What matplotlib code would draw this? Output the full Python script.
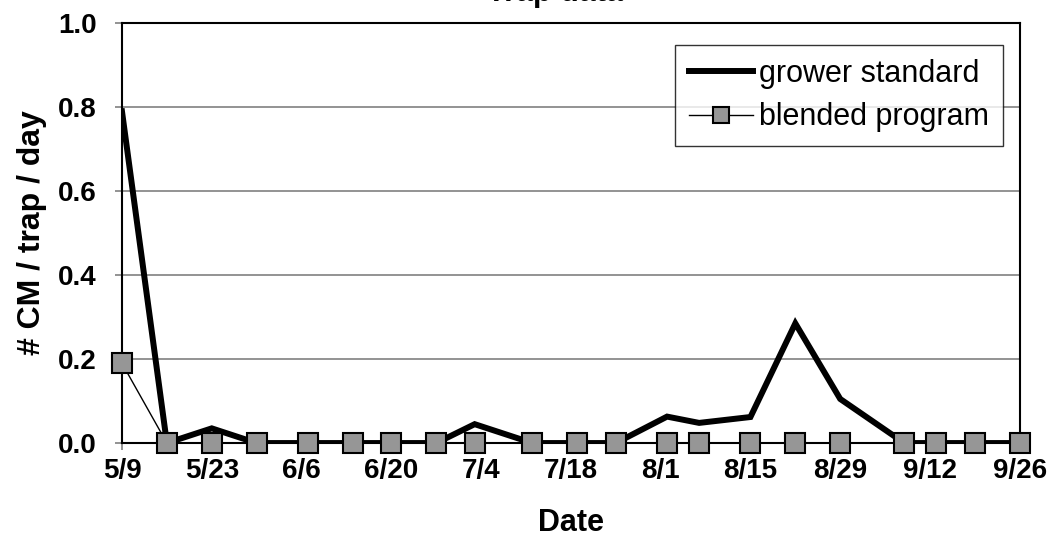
import datetime as dt
import matplotlib
matplotlib.use("Agg")
import matplotlib.pyplot as plt
from matplotlib.ticker import FuncFormatter

plt.rcParams['font.family'] = ['Liberation Sans', 'DejaVu Sans']

# sample dates (month, day)
dates_md = [(5, 9), (5, 16), (5, 23), (5, 30), (6, 7), (6, 14), (6, 20), (6, 27),
            (7, 3), (7, 12), (7, 19), (7, 25), (8, 2), (8, 7), (8, 15), (8, 22),
            (8, 29), (9, 8), (9, 13), (9, 19), (9, 26)]
grower = [0.79, 0.0, 0.035, 0.0, 0.0, 0.0, 0.0, 0.0,
          0.045, 0.0, 0.0, 0.0, 0.063, 0.048, 0.062, 0.285,
          0.105, 0.0, 0.0, 0.0, 0.0]
blended = [0.19, 0.0, 0.0, 0.0, 0.0, 0.0, 0.0, 0.0,
           0.0, 0.0, 0.0, 0.0, 0.0, 0.0, 0.0, 0.0,
           0.0, 0.0, 0.0, 0.0, 0.0]
yticks = [0.0, 0.2, 0.4, 0.6, 0.8, 1.0]

year = 2005
dates = [dt.datetime(year, m, d) for m, d in dates_md]

fig = plt.figure(figsize=(10.47, 5.58), dpi=100)
ax = fig.add_axes([0.1165, 0.206, 0.8575, 0.7525])

ax.plot(dates, grower, color='black', lw=4.3, solid_joinstyle='miter',
        label='grower standard', zorder=3)
ax.plot(dates, blended, color='black', lw=1.0, marker='s', markersize=15,
        markerfacecolor='#969696', markeredgecolor='black', markeredgewidth=1.5,
        label='blended program', zorder=4, clip_on=False)

ax.set_ylim(0, 1.0)
ax.set_yticks(yticks)
ax.yaxis.set_major_formatter(FuncFormatter(lambda v, p: f"{v:.1f}"))
start = dt.datetime(year, 5, 9)
ax.set_xlim(start, dt.datetime(year, 9, 26))
xt = [start + dt.timedelta(days=14 * i) for i in range(11)]
ax.set_xticks(xt)
ax.set_xticklabels([f"{d.month}/{d.day}" for d in xt])

ax.grid(axis='y', color='#808080', lw=1.2)
ax.set_axisbelow(True)
for s in ax.spines.values():
    s.set_color('black')
    s.set_linewidth(1.5)

ax.tick_params(axis='y', direction='out', length=5, width=1.2, color='#808080',
               pad=13, labelsize=20)
ax.tick_params(axis='x', direction='out', length=5, width=1.2, color='#808080',
               pad=6, labelsize=20)
for t in ax.get_xticklabels() + ax.get_yticklabels():
    t.set_fontweight('bold')

ax.set_xlabel('Date', fontsize=22, fontweight='bold', labelpad=17)
ax.set_ylabel('# CM / trap / day', fontsize=23, fontweight='bold', labelpad=8)

fig.text(0.53, 0.998, 'Trap data', ha='center', va='baseline',
         fontsize=22, fontweight='bold')

leg = ax.legend(loc='upper right', bbox_to_anchor=(0.981, 0.948), fontsize=22,
                frameon=True, fancybox=False, edgecolor='black',
                markerscale=0.75, handlelength=2.1, handletextpad=0.2,
                borderpad=0.45, labelspacing=0.45, borderaxespad=0)
leg.get_frame().set_linewidth(1.0)

fig.savefig('out.png', dpi=100)
